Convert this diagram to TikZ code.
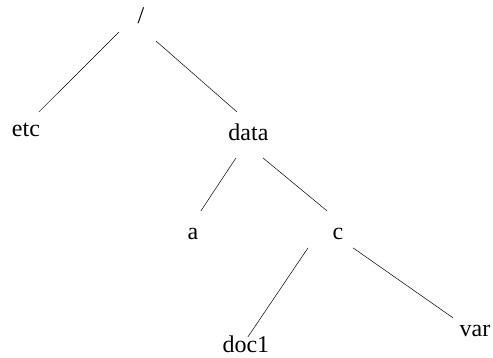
\documentclass[tikz,border=0pt]{standalone}
\usepackage{fontspec}
\setmainfont{Liberation Serif}
\usetikzlibrary{positioning}

\begin{document}
\begin{tikzpicture}[-, on grid, line width=0.5pt,
		every node/.style={inner sep=0pt, text height=17bp, text depth=5bp, font=\fontsize{24bp}{28bp}\selectfont}]
		\useasboundingbox (-141bp,17bp) rectangle (352bp,-341bp);

		\node (root) {/};
		\node[below left = 4.02cm and 4.06cm of root] (etc) {etc};
		\node[below right = 4.16cm and 3.79cm of root] (data) {data};
		\node[below left = 3.46cm and 1.96cm of data] (a) {a};
		\node[below right = 3.49cm and 3.16cm of data] (c) {c};
		\node[below left = 3.99cm and 3.25cm of c] (doc1) {doc1};
		\node[below right = 3.42cm and 4.83cm of c] (var) {var};

		% edges start and stop a little away from the labels
		\draw ([shift={(-22bp,-15bp)}]root.center) -- ([shift={(13bp,19bp)}]etc.center);
		\draw ([shift={(15bp,-24bp)}]root.center) -- ([shift={(-11.5bp,23bp)}]data.center);
		\draw ([shift={(-12.5bp,-23bp)}]data.center) -- ([shift={(8bp,22bp)}]a.center);
		\draw ([shift={(14.5bp,-23bp)}]data.center) -- ([shift={(-11bp,23bp)}]c.center);
		\draw ([shift={(-30bp,-14bp)}]c.center) -- ([shift={(2bp,10bp)}]doc1.center);
		\draw ([shift={(15bp,-14bp)}]c.center) -- ([shift={(-22bp,13bp)}]var.center);
	\end{tikzpicture}
\end{document}
